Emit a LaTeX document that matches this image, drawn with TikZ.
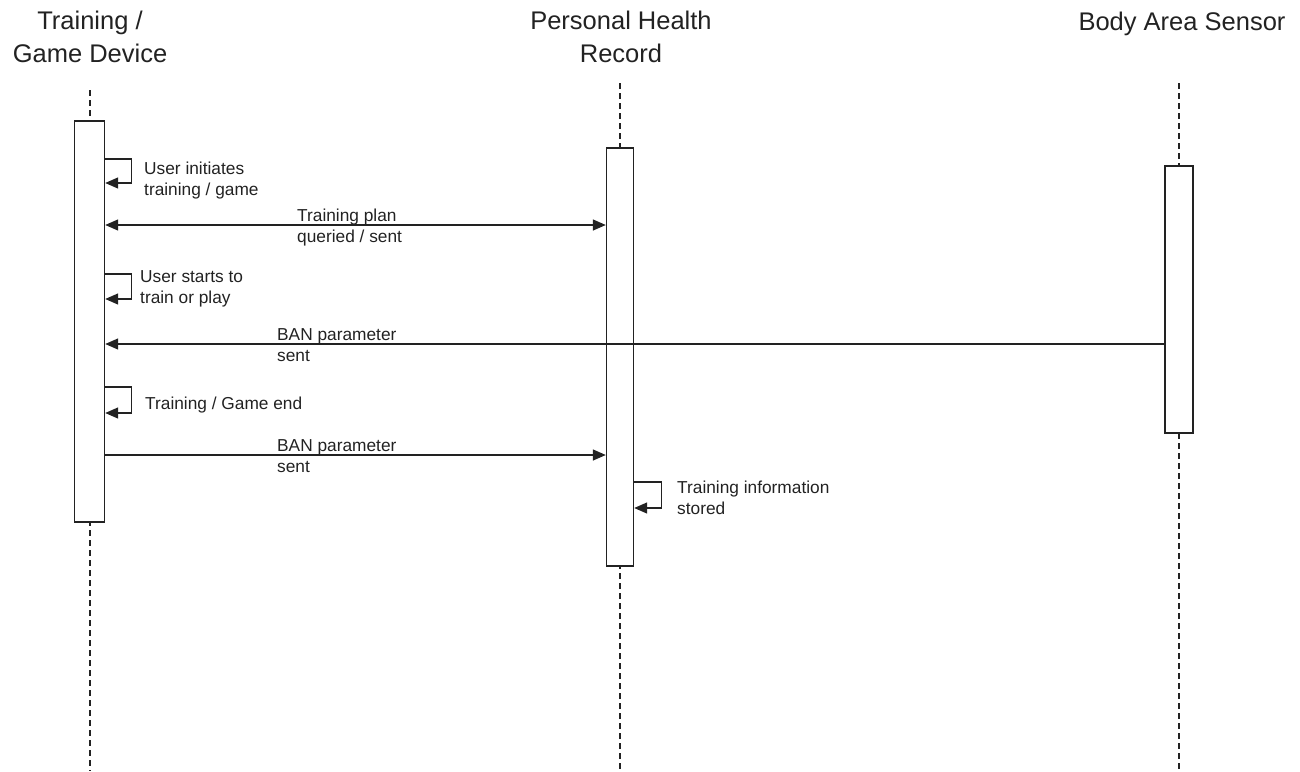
\documentclass[tikz,border=0pt]{standalone}
\usepackage{fontspec}
\setmainfont{Liberation Sans}
\usetikzlibrary{arrows.meta}
\definecolor{ink}{HTML}{222222}
\begin{document}
\begin{tikzpicture}[x=1pt,y=-1pt,
  head/.style={font=\fontsize{25.5}{33}\selectfont, text=ink, align=center, anchor=north, inner sep=0pt},
  lbl/.style={font=\fontsize{17.3}{21}\selectfont, text=ink, align=left, anchor=north west, inner sep=0pt},
  actbox/.style={draw=ink, line width=1.4pt, fill=white, minimum width=#1, minimum height=0pt, inner sep=0pt},
  lifeline/.style={draw=ink, line width=1.4pt, dash pattern=on 6pt off 4pt},
  msg/.style={draw=ink, line width=1.4pt, -{Triangle[length=13pt,width=11pt]}},
  dmsg/.style={draw=ink, line width=1.4pt, {Triangle[length=13pt,width=11pt]}-{Triangle[length=13pt,width=11pt]}}
]
\useasboundingbox (0,0) rectangle (1300,771);

% participant headers
\node[head] (hTGD) at (90,10.5) {Training /\\Game Device};
\node[head] (hPHR) at (621,10.5) {Personal Health\\Record};
\node[head] (hBAS) at (1182,11.5) {Body Area Sensor};

% lifeline ends
\coordinate (tgdTop) at (90,90);
\coordinate (tgdBot) at (90,771);
\coordinate (phrTop) at (620,83);
\coordinate (phrBot) at (620,771);
\coordinate (basTop) at (1179,83);
\coordinate (basBot) at (1179,771);

% lifelines
\draw[lifeline] (tgdTop) -- (tgdBot);
\draw[lifeline] (phrTop) -- (phrBot);
\draw[lifeline] (basTop) -- (basBot);

% activation bars
\node[actbox=30pt, minimum height=401pt] (tgd) at (89.5,321.5) {};
\node[actbox=27pt, minimum height=418pt] (phr) at (620,357) {};
\node[actbox=28pt, minimum height=267pt] (bas) at (1179,299.5) {};

% self message: user initiates training / game
\draw[msg] (tgd.east |- 0,159) -- ++(26,0) -- ++(0,24) -- ++(-26,0);
\node[lbl] (l1) at (144,161.5) {User initiates\\training / game};

% training plan exchange
\draw[dmsg] (tgd.east |- 0,225) -- (phr.west |- 0,225);
\node[lbl] (l2) at (297,208.5) {Training plan\\queried / sent};

% self message: user starts to train or play
\draw[msg] (tgd.east |- 0,274) -- ++(26,0) -- ++(0,25) -- ++(-26,0);
\node[lbl] (l3) at (140,270.5) {User starts to\\train or play};

% BAN parameters from the sensor
\draw[msg] (bas.west |- 0,344) -- (tgd.east |- 0,344);
\node[lbl] (l4) at (277,328.5) {BAN parameter\\sent};

% self message: training / game end
\draw[msg] (tgd.east |- 0,387) -- ++(26,0) -- ++(0,26) -- ++(-26,0);
\node[lbl] (l5) at (145,396.5) {Training / Game end};

% BAN parameters to the health record
\draw[msg] (tgd.east |- 0,455) -- (phr.west |- 0,455);
\node[lbl] (l6) at (277,439.5) {BAN parameter\\sent};

% self message: training information stored
\draw[msg] (phr.east |- 0,482) -- ++(27,0) -- ++(0,26) -- ++(-27,0);
\node[lbl] (l7) at (677,480.5) {Training information\\stored};
\end{tikzpicture}
\end{document}
